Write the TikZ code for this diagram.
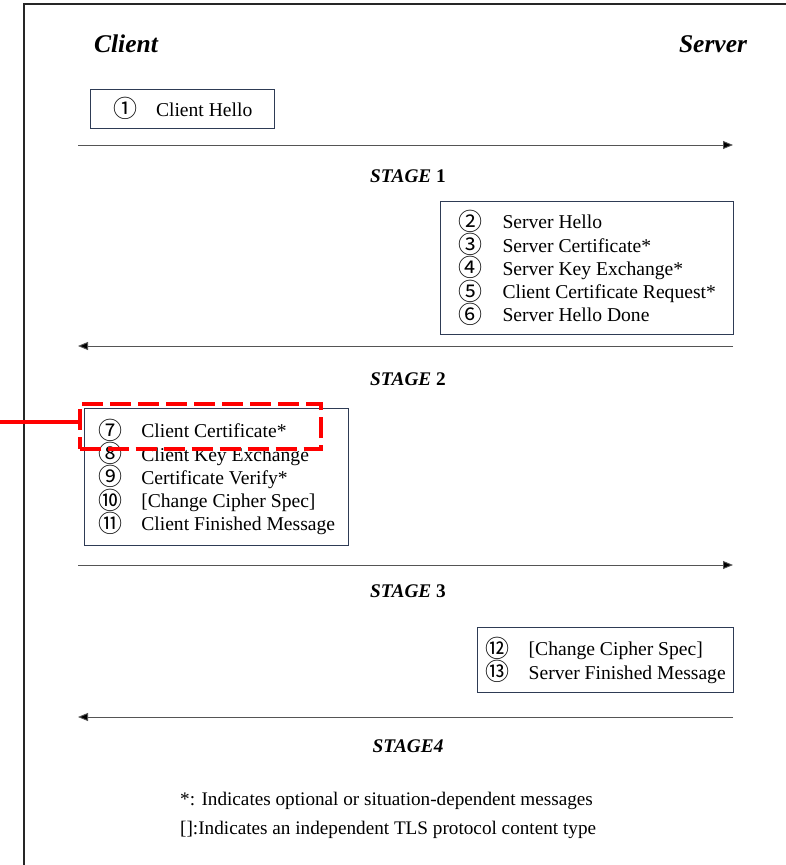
\documentclass[tikz,border=0pt]{standalone}
\usepackage{fontspec}
\setmainfont{Liberation Serif}
\newfontfamily\circfont{Noto Sans CJK JP}
\usetikzlibrary{arrows.meta}
\definecolor{boxblue}{HTML}{2E3B55}
\definecolor{flowgray}{HTML}{555555}
\newcommand{\cn}[1]{\smash{\raisebox{-1.5pt}{\fontsize{24}{24}\selectfont\circfont #1}}}
\newcommand{\lowered}[1]{\raisebox{-2.5pt}[\height][\depth]{#1}}
\begin{document}
\begin{tikzpicture}[x=1pt,y=-1pt,
  msgbox/.style={draw=boxblue, line width=1.4pt, inner sep=0pt, anchor=north west,
    font=\fontsize{19.6}{23.3}\selectfont},
  party/.style={font=\fontsize{25.5}{28}\selectfont\bfseries\itshape},
  stagelbl/.style={font=\fontsize{19.3}{22}\selectfont\bfseries},
  note/.style={anchor=west, font=\fontsize{19.2}{22}\selectfont, inner sep=0pt},
  flow/.style={draw=flowgray, line width=0.9pt, -{Triangle[length=10pt,width=8pt,fill=black]}},
  hl/.style={draw=red, line width=4pt, dash pattern=on 21pt off 7pt},
  hlline/.style={draw=red, line width=4pt}]
\useasboundingbox (0,0) rectangle (786,865);
% outer frame
\draw[line width=1.5pt, black!85] (24,865) -- (24,4) -- (786,4);

\node[party] (client) at (126,44) {Client};
\node[party] (server) at (713,44) {Server};

% box 1
\node[msgbox, minimum width=184pt, minimum height=39pt] (b1) at (90,89)
  {\lowered{\begin{tabular}{@{}p{43pt}@{}l@{}}\cn{①} & Client Hello\end{tabular}}};
\coordinate (a1s) at (78,145); \coordinate (a1e) at (733,145);
\draw[flow] (a1s) -- (a1e);
\node[stagelbl] (s1) at (408,176) {\textit{STAGE} 1};

% box 2
\node[msgbox, minimum width=293pt, minimum height=133pt] (b2) at (440,201)
  {\lowered{\begin{tabular}{@{}p{44pt}@{}l@{}}
   \cn{②} & Server Hello\\
   \cn{③} & Server Certificate*\\
   \cn{④} & Server Key Exchange*\\
   \cn{⑤} & Client Certificate Request*\\
   \cn{⑥} & Server Hello Done
   \end{tabular}}};
\coordinate (a2s) at (733,346); \coordinate (a2e) at (78,346);
\draw[flow] (a2s) -- (a2e);
\node[stagelbl] (s2) at (408,379) {\textit{STAGE} 2};

% box 3
\node[msgbox, minimum width=264pt, minimum height=137pt] (b3) at (84,408)
  {\lowered{\begin{tabular}{@{}p{43pt}@{}l@{}}
   \cn{⑦} & Client Certificate*\\
   \cn{⑧} & Client Key Exchange\\
   \cn{⑨} & Certificate Verify*\\
   \cn{⑩} & [Change Cipher Spec]\\
   \cn{⑪} & Client Finished Message
   \end{tabular}}};
\node[hl, minimum width=241pt, minimum height=45pt, anchor=north west, inner sep=0pt] (hlbox) at (77.5,402) {};
\coordinate (hlstart) at (0,421.5);
\draw[hlline] (hlstart) -- (hlstart -| hlbox.west);

\coordinate (a3s) at (78,565); \coordinate (a3e) at (733,565);
\draw[flow] (a3s) -- (a3e);
\node[stagelbl] (s3) at (408,591) {\textit{STAGE} 3};

% box 4
\node[msgbox, minimum width=256pt, minimum height=65pt] (b4) at (477,627)
  {\lowered{\begin{tabular}{@{}p{43pt}@{}l@{}}
   \cn{⑫} & [Change Cipher Spec]\\
   \cn{⑬} & Server Finished Message
   \end{tabular}}};
\coordinate (a4s) at (733,717); \coordinate (a4e) at (78,717);
\draw[flow] (a4s) -- (a4e);
\node[stagelbl] (s4) at (408,746) {\textit{STAGE4}};

\node[note] (n1) at (180,801) {*: Indicates optional or situation-dependent messages};
\node[note] (n2) at (180,830) {[]:Indicates an independent TLS protocol content type};
\end{tikzpicture}
\end{document}
